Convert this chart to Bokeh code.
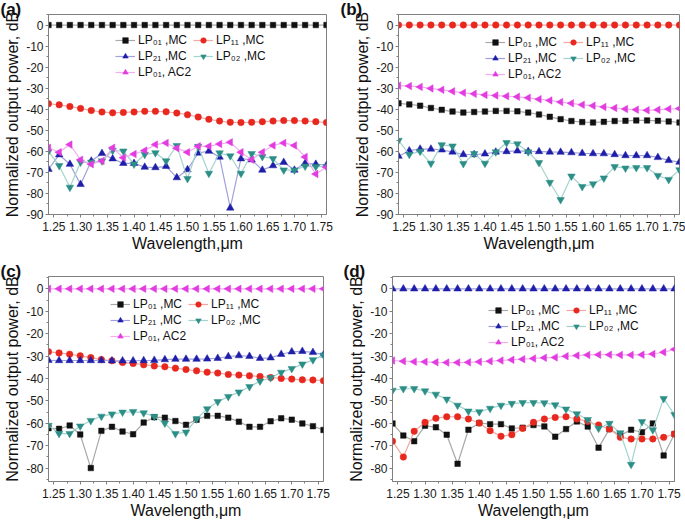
import math
from bokeh.plotting import figure
from bokeh.layouts import column, row
from bokeh.models import (Range1d, FixedTicker, PrintfTickFormatter,
                          Legend, LegendItem)
from bokeh.embed import file_html
from bokeh.resources import INLINE

# ---------------- data ----------------
wavelength = [1.24, 1.26, 1.28, 1.30, 1.32, 1.34, 1.36, 1.38, 1.40, 1.42, 1.44, 1.46, 1.48, 1.50,
              1.52, 1.54, 1.56, 1.58, 1.60, 1.62, 1.64, 1.66, 1.68, 1.70, 1.72, 1.74, 1.76]
zeros = [0.0, 0.0, 0.0, 0.0, 0.0, 0.0, 0.0, 0.0, 0.0, 0.0, 0.0, 0.0, 0.0, 0.0,
         0.0, 0.0, 0.0, 0.0, 0.0, 0.0, 0.0, 0.0, 0.0, 0.0, 0.0, 0.0, 0.0]

x_ticks = [1.25, 1.30, 1.35, 1.40, 1.45, 1.50, 1.55, 1.60, 1.65, 1.70, 1.75]
y_ticks_90 = [-90, -80, -70, -60, -50, -40, -30, -20, -10, 0]
y_ticks_80 = [-80, -70, -60, -50, -40, -30, -20, -10, 0]

series_labels = ["LP\u2080\u2081 ,MC", "LP\u2081\u2081 ,MC", "LP\u2082\u2081 ,MC",
                 "LP\u2080\u2082 ,MC", "LP\u2080\u2081, AC2"]

# panel (a)
a_lp01_mc = zeros
a_lp11_mc = [-37.4, -37.9, -38.7, -39.6, -40.6, -41.3, -41.7, -41.5, -41.3, -41.0, -41.0, -41.2, -41.8, -42.6,
             -43.7, -44.8, -45.6, -46.2, -46.3, -46.2, -45.9, -45.6, -45.4, -45.4, -45.6, -45.9, -46.3]
a_lp21_mc = [-68.5, -61.6, -66.1, -75.7, -64.6, -61.0, -63.5, -65.7, -65.7, -67.5, -67.7, -67.1, -72.5, -68.7,
             -60.8, -59.9, -62.7, -86.9, -63.5, -64.0, -68.9, -66.8, -65.2, -68.9, -65.7, -66.1, -66.6]
a_lp02_mc = [-60.0, -66.8, -77.1, -65.2, -65.2, -64.6, -59.6, -59.9, -66.1, -61.5, -60.7, -64.6, -57.3, -73.0,
             -57.7, -70.5, -60.8, -62.2, -70.5, -61.1, -62.5, -63.5, -68.9, -68.9, -67.1, -67.3, -67.3]
a_lp01_ac2 = [-58.3, -60.4, -56.8, -64.0, -66.1, -64.6, -58.3, -63.0, -61.3, -59.6, -56.8, -56.0, -58.5, -60.4,
              -57.6, -57.6, -56.5, -55.7, -60.4, -64.0, -60.4, -57.2, -56.0, -57.2, -62.7, -70.8, -67.5]

# panel (b)
b_lp01_mc = [-37.2, -37.7, -38.3, -39.4, -40.3, -41.1, -41.6, -41.3, -41.1, -40.8, -40.8, -41.0, -41.6, -42.5,
             -43.6, -44.7, -45.6, -46.1, -46.3, -46.0, -45.6, -45.5, -45.3, -45.3, -45.5, -45.8, -46.3]
b_lp11_mc = zeros
b_lp21_mc = [-62.3, -59.7, -58.9, -58.9, -59.3, -60.3, -61.5, -61.5, -61.2, -60.3, -60.1, -59.8, -60.0, -60.1,
             -60.3, -60.4, -60.6, -60.9, -61.1, -61.1, -61.5, -62.0, -62.0, -62.0, -62.9, -64.3, -65.1]
b_lp02_mc = [-54.8, -61.5, -60.0, -65.7, -56.9, -57.5, -65.9, -61.1, -65.7, -60.3, -55.9, -56.5, -60.3, -65.4,
             -74.8, -83.0, -71.8, -76.8, -75.5, -72.7, -67.3, -68.0, -67.8, -67.8, -71.5, -73.4, -68.8]
b_lp01_ac2 = [-28.8, -29.0, -29.4, -30.1, -30.8, -31.5, -32.2, -32.7, -33.2, -33.5, -33.8, -34.1, -34.6, -35.2,
              -35.8, -36.6, -37.2, -37.9, -38.3, -38.9, -39.4, -39.9, -40.2, -40.5, -40.3, -39.9, -39.7]

# panel (c)
c_lp01_mc = [-62.2, -62.5, -61.0, -65.0, -80.0, -63.4, -61.6, -63.7, -64.9, -59.7, -57.3, -57.5, -59.0, -60.7,
             -58.4, -56.7, -56.7, -57.5, -59.3, -61.6, -61.6, -59.1, -57.8, -58.4, -60.1, -61.3, -63.0]
c_lp11_mc = [-28.1, -28.6, -29.2, -29.9, -30.7, -31.6, -32.1, -32.9, -33.3, -33.9, -34.4, -34.8, -35.4, -36.0,
             -36.6, -37.2, -37.6, -38.2, -38.5, -38.8, -39.1, -39.6, -40.0, -40.3, -40.6, -40.7, -41.0]
c_lp21_mc = [-31.9, -32.0, -32.0, -32.0, -32.0, -32.0, -32.1, -32.1, -32.1, -32.0, -31.9, -31.6, -31.4, -31.4,
             -31.4, -31.3, -31.0, -30.2, -29.8, -30.1, -31.0, -30.8, -29.2, -28.1, -27.9, -28.4, -29.5]
c_lp02_mc = [-61.0, -64.6, -64.6, -61.3, -58.8, -56.9, -55.9, -55.1, -54.8, -55.4, -57.0, -60.0, -64.7, -64.0,
             -58.1, -53.6, -50.4, -48.1, -46.1, -43.7, -41.2, -39.7, -37.3, -35.6, -33.6, -31.7, -29.6]
c_lp01_ac2 = zeros

# panel (d)
d_lp01_mc = [-60.1, -65.5, -68.0, -61.1, -61.8, -65.1, -78.1, -62.9, -59.9, -60.4, -60.4, -62.3, -62.0, -60.8,
             -61.4, -66.0, -62.6, -59.2, -61.5, -70.9, -62.6, -65.4, -62.9, -64.0, -60.1, -74.4, -64.8]
d_lp11_mc = [-68.0, -75.1, -63.6, -59.6, -57.8, -57.1, -57.1, -58.1, -59.9, -63.3, -65.8, -65.1, -62.3, -59.6,
             -58.1, -57.4, -57.1, -58.1, -59.2, -60.8, -62.6, -66.3, -67.0, -67.0, -67.0, -66.3, -64.8]
d_lp21_mc = zeros
d_lp02_mc = [-45.3, -44.6, -44.6, -45.6, -47.1, -49.3, -52.0, -54.6, -54.9, -53.4, -52.0, -51.2, -50.8, -50.8,
             -50.9, -51.8, -53.7, -55.8, -58.4, -62.3, -60.1, -64.3, -78.4, -59.3, -63.0, -49.0, -56.2]
d_lp01_ac2 = [-32.0, -32.3, -32.5, -32.6, -32.8, -32.9, -32.9, -32.8, -32.6, -32.3, -32.0, -31.7, -31.4, -31.1,
              -30.8, -30.6, -30.1, -29.8, -29.5, -29.4, -29.4, -29.5, -29.5, -29.4, -29.1, -28.3, -27.0]

# ---------------- styles ----------------
FONT = "Liberation Sans"
AXIS_GREY = "#808080"
styles = [
    dict(marker="square", size=5.5, fill="#111111", line="#a8a8a8", angle=0.0),
    dict(marker="circle", size=6.5, fill="#e8281e", line="#f3a7a0", angle=0.0),
    dict(marker="triangle", size=7.5, fill="#1e1ea8", line="#a0a0dc", angle=0.0),
    dict(marker="inverted_triangle", size=7.5, fill="#2b8f87", line="#a3d3cd", angle=0.0),
    dict(marker="triangle", size=7.5, fill="#e23ce0", line="#f2aef0", angle=math.pi / 2),
]


def panel(tag, series, y_lo, y_hi, y_ticks, width, height, bl, br, bt, bb, leg_xy, tag_dx):
    p = figure(width=width, height=height, x_range=Range1d(1.24, 1.76), y_range=Range1d(y_lo, y_hi),
               output_backend="svg", toolbar_location=None,
               min_border_left=bl, min_border_right=br, min_border_top=bt, min_border_bottom=bb)
    p.grid.visible = False
    p.outline_line_color = AXIS_GREY
    p.outline_line_width = 1

    minor_x = [1.225 + 0.025 * i for i in range(23)]
    minor_y = [y_ticks[0] - 5 + 5 * i for i in range(2 * len(y_ticks) + 2)]

    xa = p.xaxis[0]
    xa.ticker = FixedTicker(ticks=x_ticks, minor_ticks=minor_x)
    xa.formatter = PrintfTickFormatter(format="%.2f")
    xa.axis_label = "Wavelength,\u03bcm"
    ya = p.yaxis[0]
    ya.ticker = FixedTicker(ticks=y_ticks, minor_ticks=minor_y)
    ya.formatter = PrintfTickFormatter(format="%d")
    ya.axis_label = "Normalized output power, dB"
    for ax in (xa, ya):
        ax.axis_line_color = AXIS_GREY
        ax.major_tick_line_color = AXIS_GREY
        ax.minor_tick_line_color = AXIS_GREY
        ax.major_tick_out = 3
        ax.major_tick_in = 0
        ax.minor_tick_out = 2
        ax.minor_tick_in = 0
        ax.major_label_text_font = FONT
        ax.major_label_text_font_size = "12px"
        ax.major_label_text_color = "#1a1a1a"
        ax.axis_label_text_font = FONT
        ax.axis_label_text_font_style = "normal"
        ax.axis_label_text_color = "#111111"
        ax.axis_label_text_font_size = "16px"
    xa.major_label_standoff = 4
    xa.axis_label_standoff = 1
    ya.major_label_standoff = 2
    ya.axis_label_standoff = 2

    items = []
    for vals, st, lab in zip(series, styles, series_labels):
        lr = p.line(wavelength, vals, line_color=st["line"], line_width=1.2)
        sr = p.scatter(wavelength, vals, marker=st["marker"], size=st["size"], angle=st["angle"],
                       fill_color=st["fill"], line_color=st["fill"], line_width=0.5)
        items.append(LegendItem(label=lab, renderers=[lr, sr]))

    leg = Legend(items=items, location=leg_xy, orientation="horizontal", ncols=2,
                 glyph_width=20, glyph_height=14, label_height=14, label_standoff=3,
                 spacing=2, padding=0, margin=0,
                 label_text_font=FONT, label_text_font_size="12px", label_text_color="#111111",
                 background_fill_alpha=0, border_line_alpha=0)
    p.add_layout(leg)

    p.title.text = tag
    p.title.align = "left"
    p.title.vertical_align = "bottom"
    p.title.offset = -bl + tag_dx
    p.title.standoff = -9
    p.title.text_font = FONT
    p.title.text_font_size = "17px"
    p.title.text_font_style = "bold"
    p.title.text_color = "#111111"
    return p


pa = panel("(a)", [a_lp01_mc, a_lp11_mc, a_lp21_mc, a_lp02_mc, a_lp01_ac2], -90, 5, y_ticks_90,
           340, 262, 48, 14, 14, 48, (67, 135), 0)
pb = panel("(b)", [b_lp01_mc, b_lp11_mc, b_lp21_mc, b_lp02_mc, b_lp01_ac2], -90, 5, y_ticks_90,
           345, 262, 58, 6, 14, 48, (87, 133), 0)
pc = panel("(c)", [c_lp01_mc, c_lp11_mc, c_lp21_mc, c_lp02_mc, c_lp01_ac2], -86, 5.5, y_ticks_80,
           340, 261, 48, 17, 14, 42, (62, 138), 0)
pd = panel("(d)", [d_lp01_mc, d_lp11_mc, d_lp21_mc, d_lp02_mc, d_lp01_ac2], -86, 5.5, y_ticks_80,
           345, 261, 52, 11, 14, 42, (96, 132), 3)

layout = column(row(pa, pb), row(pc, pd))
open("out.html", "w").write(file_html(layout, INLINE))
